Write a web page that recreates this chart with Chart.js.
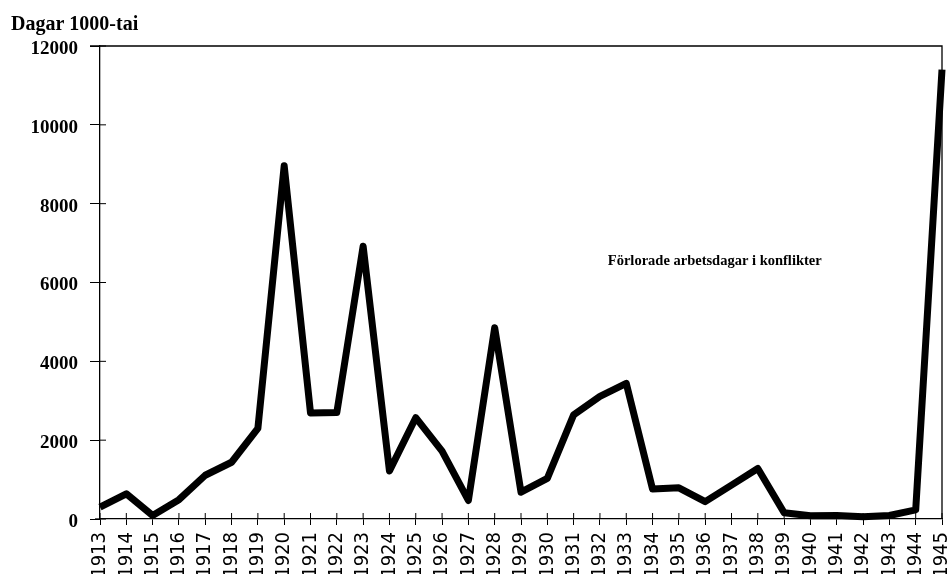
<!DOCTYPE html>
<html>
<head>
<meta charset="utf-8">
<script src="https://cdn.jsdelivr.net/npm/chart.js@4.4.0/dist/chart.umd.min.js"></script>
<style>
  html, body { margin: 0; padding: 0; background: #fff; }
  #wrap { width: 949px; height: 574px; position: relative; }
</style>
</head>
<body>
<div id="wrap"><canvas id="grafico"></canvas></div>
<script>
// DATOS
const years = ["1913","1914","1915","1916","1917","1918","1919","1920","1921","1922",
  "1923","1924","1925","1926","1927","1928","1929","1930","1931","1932","1933",
  "1934","1935","1936","1937","1938","1939","1940","1941","1942","1943","1944","1945"];
const lostDays = [300, 640, 90, 490, 1110, 1440, 2300, 8960, 2690, 2700,
  6920, 1220, 2570, 1720, 470, 4850, 680, 1030, 2640, 3110, 3440,
  760, 790, 440, 860, 1280, 160, 80, 90, 60, 90, 230, 11400];
const yTicks = [0, 2000, 4000, 6000, 8000, 10000, 12000];
const yTitle = "Dagar 1000-tai";
const seriesLabel = "Förlorade arbetsdagar i konflikter";

const serif = '"Liberation Serif", "DejaVu Serif", serif';
const narrow = '"Liberation Sans Narrow", "DejaVu Sans Condensed", sans-serif';

// textos, marco y marcas interiores
const extras = {
  id: "extras",
  beforeDraw(chart) {
    const ctx = chart.ctx;
    ctx.save();
    ctx.fillStyle = "#fff";
    ctx.fillRect(0, 0, chart.width, chart.height);
    ctx.restore();
  },
  afterDraw(chart) {
    const ctx = chart.ctx;
    const a = chart.chartArea;
    const xs = chart.scales.x;
    const ys = chart.scales.y;
    ctx.save();
    ctx.strokeStyle = "#000";
    ctx.lineWidth = 1.3;
    // marco superior y derecho
    ctx.beginPath();
    ctx.moveTo(a.left - 10, a.top);
    ctx.lineTo(a.right, a.top);
    ctx.lineTo(a.right, a.bottom);
    ctx.stroke();
    // eje x un poco mas largo a la izquierda
    ctx.beginPath();
    ctx.moveTo(a.left - 5, a.bottom);
    ctx.lineTo(a.left, a.bottom);
    ctx.stroke();
    // marcas hacia dentro
    ctx.lineWidth = 1;
    ys.ticks.forEach((t, i) => {
      const py = ys.getPixelForTick(i);
      ctx.beginPath();
      ctx.moveTo(a.left, py);
      ctx.lineTo(a.left + 6, py);
      ctx.stroke();
    });
    xs.ticks.forEach((t, i) => {
      const px = xs.getPixelForTick(i);
      ctx.beginPath();
      ctx.moveTo(px, a.bottom);
      ctx.lineTo(px, a.bottom - 6);
      ctx.stroke();
    });
    // titulo del eje
    ctx.fillStyle = "#000";
    ctx.font = "bold 20px " + serif;
    ctx.textAlign = "left";
    ctx.textBaseline = "alphabetic";
    ctx.fillText(yTitle, 11, 30);
    // rotulo de la serie
    ctx.textBaseline = "middle";
    ctx.font = "bold 14.5px " + serif;
    ctx.fillText(seriesLabel, xs.getPixelForValue(19.3), ys.getPixelForValue(6550));
    ctx.restore();
  }
};

const ctx = document.getElementById("grafico").getContext("2d");
new Chart(ctx, {
  type: "line",
  data: {
    labels: years,
    datasets: [{
      label: seriesLabel,
      data: lostDays,
      borderColor: "#000",
      borderWidth: 7,
      borderJoinStyle: "round",
      borderCapStyle: "butt",
      pointRadius: 0,
      tension: 0,
      fill: false,
      clip: false
    }]
  },
  options: {
    responsive: true,
    maintainAspectRatio: false,
    animation: false,
    layout: { padding: { top: 46, right: 7, left: 0, bottom: 0 } },
    plugins: {
      legend: { display: false },
      tooltip: { enabled: false },
      title: { display: false }
    },
    scales: {
      x: {
        type: "category",
        offset: false,
        grid: { display: true, drawOnChartArea: false, drawTicks: true, tickLength: 6, color: "#000", lineWidth: 1 },
        border: { display: true, color: "#000", width: 1.3 },
        ticks: {
          color: "#000",
          autoSkip: false,
          minRotation: 90,
          maxRotation: 90,
          padding: 7,
          font: { family: narrow, size: 20 }
        },
        afterFit(scale) {
          scale.height = 55;
          scale.paddingLeft = 0;
          scale.paddingRight = 0;
        }
      },
      y: {
        min: 0,
        max: 12000,
        afterBuildTicks(scale) { scale.ticks = yTicks.map(v => ({ value: v })); },
        grid: { display: true, drawOnChartArea: false, drawTicks: true, tickLength: 10, color: "#000", lineWidth: 1 },
        border: { display: true, color: "#000", width: 1.3 },
        ticks: {
          color: "#000",
          padding: 12,
          labelOffset: 3,
          font: { family: serif, size: 19, weight: "bold" },
          callback: (v) => String(v)
        },
        afterFit(scale) {
          scale.width = 100;
          scale.paddingTop = 0;
          scale.paddingBottom = 0;
        }
      }
    }
  },
  plugins: [extras]
});
</script>
</body>
</html>
